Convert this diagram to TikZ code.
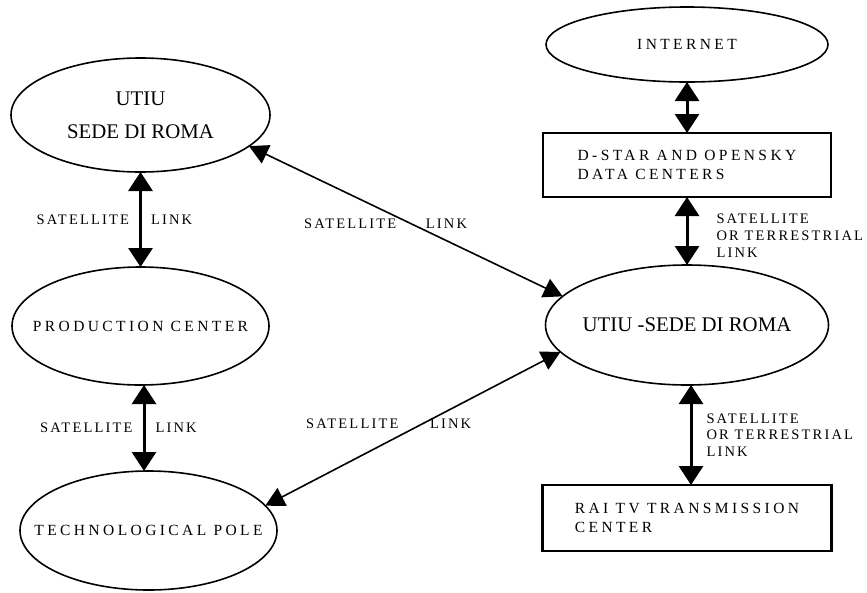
\documentclass[tikz,border=0pt]{standalone}
\usepackage{fontspec}
\setmainfont{Liberation Serif}
\newfontfamily\spacedfont[LetterSpace=22]{Liberation Serif}
\newfontfamily\linkfont[LetterSpace=15]{Liberation Serif}
\usetikzlibrary{arrows.meta, positioning, shapes.geometric}

\begin{document}
\begin{tikzpicture}[
  x=1pt, y=-1pt,
  node distance=50pt,
  site/.style={draw, ellipse, line width=1.6pt, inner xsep=-30pt, inner ysep=0pt, outer sep=0pt, align=center},
  centre/.style={draw, rectangle, line width=2.6pt, inner sep=0pt, outer sep=0pt, align=left, font=\spacedfont\fontsize{15.5}{18.5}\selectfont},
  title/.style={font=\fontsize{20.8}{33}\selectfont},
  spaced/.style={font=\spacedfont\fontsize{15.5}{18}\selectfont},
  link/.style={{Triangle[length=19pt, width=24pt]}-{Triangle[length=19pt, width=24pt]}, line width=3pt},
  wan/.style={{Triangle[length=19pt, width=20pt]}-{Triangle[length=19pt, width=20pt]}, line width=1.6pt},
  linktext/.style={font=\linkfont\fontsize{14.5}{16.7}\selectfont, inner sep=0pt, align=left}
]
  \useasboundingbox (0,0) rectangle (867,592);

  % left column
  \node[site, title, minimum width=259pt, minimum height=114pt] (utiu) at (140.5,115) {UTIU\\SEDE DI ROMA};
  \node[site, spaced, minimum width=257pt, minimum height=118pt, below=95pt of utiu] (prod) {PRODUCTION CENTER};
  \node[site, spaced, minimum width=257pt, minimum height=119pt, below=86pt of prod, xshift=8pt] (tech) {TECHNOLOGICAL POLE};

  % right column
  \node[site, spaced, minimum width=282pt, minimum height=75pt] (net) at (687,44.5) {INTERNET};
  \node[centre, minimum width=288pt, minimum height=64pt, below=51pt of net] (dstar) {D-STAR AND OPENSKY\\DATA CENTERS};
  \node[site, title, minimum width=283pt, minimum height=120pt, below=68pt of dstar] (hub) {UTIU -SEDE DI ROMA};
  \node[centre, minimum width=289pt, minimum height=66pt, below=100pt of hub] (rai) {RAI TV TRANSMISSION\\CENTER};

  \draw[link] (utiu.south) -- (prod.north)
    node[linktext, midway, left=10pt] {SATELLITE} node[linktext, midway, right=9pt] {LINK};
  \draw[link] ([xshift=3.5pt]prod.south) -- ([xshift=-4.5pt]tech.north)
    node[linktext, midway, left=10pt] {SATELLITE} node[linktext, midway, right=10pt] {LINK};

  \draw[link] (net.south) -- (dstar.north);
  \draw[link] (dstar.south) -- (hub.north)
    node[linktext, pos=.57, right=28pt] {SATELLITE\\OR TERRESTRIAL\\LINK};
  \draw[link] ([xshift=4pt]hub.south) -- ([xshift=4pt]rai.north)
    node[linktext, midway, right=14pt] {SATELLITE\\OR TERRESTRIAL\\LINK};

  \draw[wan] (utiu.-16.6) -- (hub.167.2)
    node[linktext, pos=.52, left=15pt] {SATELLITE} node[linktext, pos=.52, right=13pt] {LINK};
  \draw[wan] (hub.192.4) -- (tech.12.2)
    node[linktext, pos=.465, left=24pt] {SATELLITE} node[linktext, pos=.465, right=6pt] {LINK};

\end{tikzpicture}
\end{document}
